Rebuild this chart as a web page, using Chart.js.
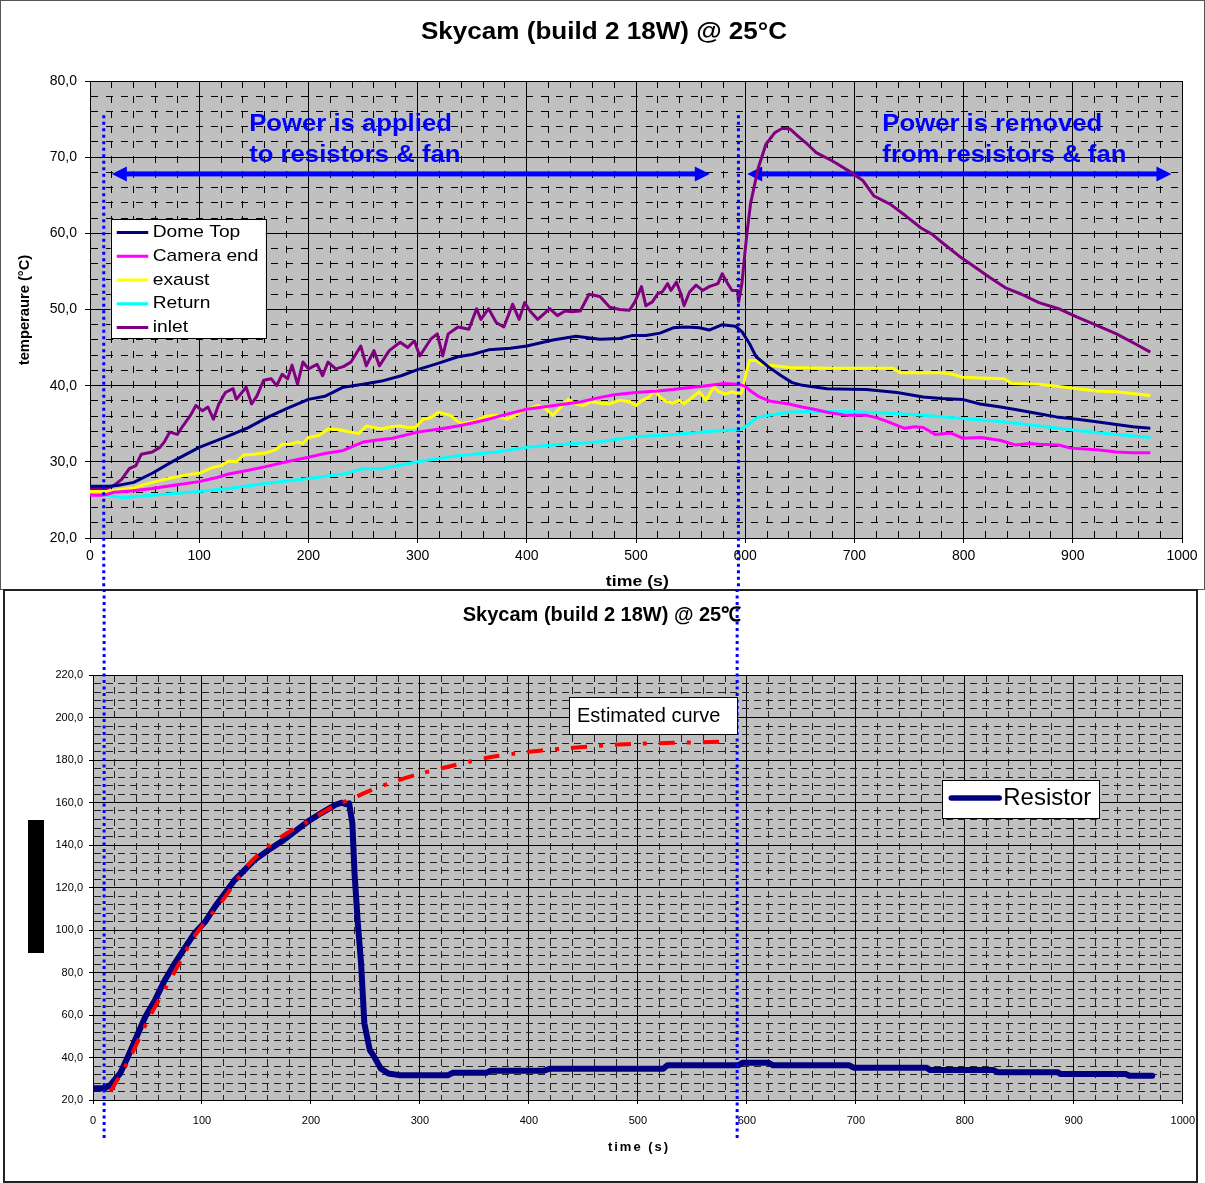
<!DOCTYPE html>
<html><head><meta charset="utf-8">
<script src="https://cdn.jsdelivr.net/npm/chart.js@4"></script>
<style>
html,body{margin:0;padding:0;background:#fff;width:1205px;height:1183px;overflow:hidden}
#boxTop{position:absolute;left:0;top:0;width:1205px;height:590px;box-sizing:border-box;border:1px solid #555;}
#boxBot{position:absolute;left:3px;top:589px;width:1195px;height:594px;box-sizing:border-box;border:2px solid #222;background:#fff}
#c1{position:absolute;left:0;top:0}
#c2{position:absolute;left:0;top:589px}
</style></head><body>
<div id="boxTop"></div><div id="boxBot"></div>
<canvas id="c1" width="1205" height="590"></canvas>
<canvas id="c2" width="1205" height="594"></canvas>
<script>
// ---------------- DATA (top chart) ----------------
const topTitle = 'Skycam (build 2 18W) @ 25°C';
const topYTitle = 'temperaure (°C)';
const topXTitle = 'time (s)';
const seriesLabels = ['Dome Top', 'Camera end', 'exaust', 'Return', 'inlet'];
const seriesColors = ['#000080', '#FF00FF', '#FFFF00', '#00FFFF', '#800080'];

const domeTopTime = [0,10,18,25,40,57,75,100,127,145,162,180,200,215,232,250,267,285,300,318,337,350,365,385,400,424,445,467,485,497,509,522,534,546,558,567,579,591,597,604,610,622,633,643,651,675,711,739,763,780,799,815,834,850,869,885,904,920,940,955,971];
const domeTopTemp = [26.8,26.8,26.8,26.9,27.3,28.5,30.0,31.9,33.4,34.5,35.8,37.0,38.2,38.6,39.8,40.2,40.6,41.3,42.1,42.9,43.8,44.1,44.7,44.9,45.2,46.0,46.5,46.1,46.2,46.6,46.6,46.9,47.6,47.7,47.6,47.3,48.0,47.8,47.1,45.5,43.8,42.4,41.3,40.4,40.1,39.6,39.5,39.1,38.5,38.3,38.2,37.6,37.2,36.8,36.3,35.9,35.6,35.3,34.9,34.6,34.4];

const cameraEndTime = [0,10,15,22,40,57,80,100,115,127,145,162,180,200,215,232,240,250,265,277,300,320,337,350,365,380,400,420,435,450,465,480,500,520,534,545,559,570,580,594,600,605,612,622,640,652,663,675,693,711,720,728,746,755,763,774,788,799,816,834,848,860,869,887,898,922,940,955,971];
const cameraEndTemp = [25.6,25.6,25.7,26.0,26.2,26.5,27.0,27.4,27.9,28.4,28.9,29.4,30.0,30.6,31.1,31.5,32.0,32.6,32.9,33.1,33.9,34.3,34.7,35.1,35.6,36.2,36.9,37.3,37.6,37.9,38.4,38.8,39.1,39.3,39.5,39.7,39.9,40.1,40.3,40.2,39.9,39.3,38.6,38.0,37.6,37.2,36.9,36.5,36.1,36.1,35.8,35.4,34.4,34.6,34.5,33.6,33.8,33.1,33.2,32.8,32.2,32.4,32.3,32.2,31.8,31.6,31.3,31.2,31.2];

const exaustTime = [0,15,25,40,57,75,90,100,113,120,127,134,141,150,162,170,176,183,190,195,200,210,218,228,239,246,253,260,267,276,284,291,298,305,312,319,325,330,335,340,347,354,362,372,377,382,388,396,403,410,417,424,431,438,445,452,459,467,476,485,494,500,506,512,517,522,528,534,540,544,550,558,564,571,576,582,588,594,597,600,604,610,615,640,675,711,735,742,781,790,799,816,837,844,869,887,922,940,971];
const exaustTemp = [26.1,26.1,26.3,26.6,27.3,27.9,28.3,28.5,29.3,29.5,30.1,30.0,30.9,31.0,31.2,31.6,32.3,32.3,32.6,32.4,33.2,33.5,34.3,34.2,33.9,33.7,34.7,34.5,34.3,34.6,34.7,34.5,34.5,35.6,35.8,36.5,36.3,36.1,35.5,35.0,35.2,35.4,36.0,36.1,35.8,35.6,36.0,36.7,37.0,37.4,37.0,36.1,37.2,38.2,37.6,37.4,37.9,37.7,37.6,38.1,37.9,37.4,38.1,38.5,39.4,38.5,37.9,37.7,38.1,37.6,38.3,39.2,38.1,39.8,39.2,38.9,39.2,38.9,39.1,41.2,43.3,43.3,42.8,42.4,42.3,42.3,42.3,41.7,41.7,41.5,41.1,41.0,40.9,40.3,40.2,39.9,39.3,39.2,38.7];

const returnTime = [0,10,15,29,57,100,127,162,200,232,250,267,300,337,372,400,424,465,500,534,569,594,600,612,640,658,693,728,763,799,834,869,904,940,971];
const returnTemp = [26.0,26.0,25.6,25.3,25.6,26.1,26.5,27.2,27.8,28.4,29.1,29.1,30.0,30.8,31.3,31.9,32.2,32.6,33.3,33.6,34.0,34.2,34.6,35.9,36.5,36.6,36.6,36.4,36.1,35.7,35.3,34.7,34.1,33.6,33.2];

const inletTime = [0,15,22,29,36,42,47,57,64,68,73,80,85,92,97,103,108,113,118,124,131,134,143,148,153,159,166,171,176,181,185,190,195,200,208,213,218,225,232,239,248,253,260,265,274,284,291,297,302,312,318,323,328,337,347,354,358,365,372,379,387,393,398,403,410,421,428,435,441,449,457,467,476,485,494,499,505,509,515,520,524,529,532,537,541,544,549,555,561,567,575,579,584,588,593,594,597,600,602,605,612,619,627,634,641,648,657,665,680,697,708,718,733,747,761,771,782,796,807,824,839,853,869,887,904,922,940,957,971];
const inletTemp = [26.5,26.5,26.9,27.7,29.1,29.5,31.0,31.3,31.9,32.6,33.9,33.6,34.7,36.1,37.4,36.7,37.2,35.6,37.6,39.1,39.6,38.2,39.8,37.6,38.7,40.7,40.9,40.0,41.5,40.9,42.7,40.2,43.1,42.2,42.8,41.3,43.1,42.2,42.5,43.1,45.2,42.6,44.6,42.6,44.6,45.7,45.0,45.9,43.9,46.1,46.8,43.9,46.8,47.7,47.4,50.1,48.7,50.1,48.3,47.7,50.7,48.7,50.9,49.8,48.7,50.1,49.2,49.8,49.7,49.8,52.0,51.7,50.3,50.0,49.9,51.0,53.0,50.5,51.0,52.1,52.3,53.4,52.5,53.6,52.1,50.5,52.3,53.2,52.5,53.0,53.4,54.7,53.4,52.5,52.5,51.0,53.4,57.8,60.5,64.0,68.6,71.7,73.2,73.8,73.7,72.8,71.7,70.6,69.5,68.0,66.9,64.9,63.8,62.3,60.7,59.9,58.6,57.0,55.9,54.2,52.8,52.0,50.9,50.1,49.0,47.9,46.8,45.5,44.4];

const topTimes = [domeTopTime, cameraEndTime, exaustTime, returnTime, inletTime];
const topTemps = [domeTopTemp, cameraEndTemp, exaustTemp, returnTemp, inletTemp];

// annotations (data units)
const appliedText = ['Power is applied', 'to resistors & fan'];
const removedText = ['Power is removed', 'from resistors & fan'];
const textRows = [74.27, 70.28];
const appliedTextT = 145.8, removedTextT = 725.6;
const arrowLevel = 67.8;
const appliedArrow = [20.0, 567.6];
const removedArrow = [601.8, 990.3];
const markerTimesTop = [12.6, 593.8];
const markerTopLevel = 75.5;
const legendAnchorTop = [19.0, 61.87];

// ---------------- DATA (bottom chart) ----------------
const botTitle = 'Skycam (build 2 18W) @ 25℃';
const botXTitle = 'time (s)';
const resistorLabel = 'Resistor';
const estimatedLabel = 'Estimated curve';
const resistorTime = [0,11,16,25,32,40,48,57,66,75,84,93,103,112,121,130,139,148,161,173,185,197,209,222,228,232,235,238,240,243,246,249,254,258,264,271,281,326,330,361,365,414,419,523,527,592,596,620,624,694,698,765,768,826,830,885,888,948,951,972];
const resistorTemp = [25.5,25.5,27.1,32.6,40.4,49.8,59.2,67.1,76.5,84.3,91.4,98.4,103.9,111,117.3,123.5,128.2,132.9,137.6,141.6,146.3,151,154.9,158.8,159.9,159.2,159.6,150.2,126.7,103.2,84.3,56.1,43.5,40.4,34.8,32.5,31.7,31.7,32.8,32.8,33.8,33.8,34.7,34.7,36.3,36.3,37.5,37.5,36.3,36.3,35.2,35.2,34.1,34.1,33.1,33.1,32.2,32.2,31.4,31.4];
const estimatedTime = [16,32,52,75,93,118,145,173,197,222,235,252,274,299,320,347,364,386,410,438,455,469,497,532,578];
const estimatedTemp = [24,38,59.2,80.4,97,113.3,132.1,143.9,151,158.6,161.2,165.1,169.4,173.4,176.1,179.4,181.3,182.9,184.4,185.6,186.3,186.9,187.6,188.1,188.6];
const markerTimesBot = [10.2, 591.1];
const markerBottomLevel = 0.9;
const estBoxAnchor = [436.8, 209.6];
const resLegendAnchor = [779.3, 170.6];

// ---------------- helpers ----------------
const FONT = "'Liberation Sans', Arial, Helvetica, sans-serif";
function pts(t, v) { return t.map((x, i) => ({x: x, y: v[i]})); }
function isMult(v, m) { return Math.abs(v / m - Math.round(v / m)) < 1e-6; }
function comma(v) { return v.toFixed(1).replace('.', ','); }

function txt(ctx, text, x, y, o) {
  ctx.save();
  ctx.font = o.font; ctx.fillStyle = o.color || '#000';
  ctx.textBaseline = 'middle'; ctx.textAlign = 'left';
  const sp = o.spacing || 0;
  if (sp) ctx.letterSpacing = sp + 'px';
  const sx = o.sx || 1;
  let w = ctx.measureText(text).width;
  if (sp) w -= sp;
  w *= sx;
  const x0 = o.align === 'center' ? x - w / 2 : (o.align === 'right' ? x - w : x);
  ctx.translate(x0, y); ctx.scale(sx, 1);
  ctx.fillText(text, 0, 0);
  ctx.restore();
}
function arrow(ctx, x1, x2, y, color) {
  const hl = 15, hw = 7.5, sw = 5;
  ctx.save();
  ctx.fillStyle = color;
  ctx.fillRect(x1 + hl - 1, y - sw / 2, x2 - x1 - 2 * hl + 2, sw);
  ctx.beginPath(); ctx.moveTo(x1, y); ctx.lineTo(x1 + hl, y - hw); ctx.lineTo(x1 + hl, y + hw); ctx.closePath(); ctx.fill();
  ctx.beginPath(); ctx.moveTo(x2, y); ctx.lineTo(x2 - hl, y - hw); ctx.lineTo(x2 - hl, y + hw); ctx.closePath(); ctx.fill();
  ctx.restore();
}
function dotted(ctx, x, y1, y2) {
  ctx.save(); ctx.strokeStyle = '#0000FF'; ctx.lineWidth = 3; ctx.setLineDash([3, 3.5]);
  ctx.beginPath(); ctx.moveTo(x, y1); ctx.lineTo(x, y2); ctx.stroke(); ctx.restore();
}
function gridOpts(major, dash, minorColor, majorColor, tl) {
  return {
    grid: {
      color: c => (c.tick && !isMult(c.tick.value, major)) ? minorColor : majorColor,
      lineWidth: 1, tickLength: tl, tickWidth: 1,
      tickColor: c => (c.tick && !isMult(c.tick.value, major)) ? 'rgba(0,0,0,0)' : '#000'
    },
    border: { display: true, color: '#000', width: 1,
      dash: c => (c.tick && !isMult(c.tick.value, major)) ? dash : [] }
  };
}

// ---------------- top chart ----------------
const topPlugin = {
  id: 'topDecor',
  beforeDraw(chart) {
    const {ctx, chartArea: a} = chart;
    ctx.save(); ctx.fillStyle = '#C0C0C0'; ctx.fillRect(a.left, a.top, a.right - a.left, a.bottom - a.top); ctx.restore();
  },
  beforeDatasetsDraw(chart) {
    const {ctx, scales: {x, y}} = chart;
    const ay = y.getPixelForValue(arrowLevel);
    arrow(ctx, x.getPixelForValue(appliedArrow[0]), x.getPixelForValue(appliedArrow[1]), ay, '#0000FF');
    arrow(ctx, x.getPixelForValue(removedArrow[0]), x.getPixelForValue(removedArrow[1]), ay, '#0000FF');
    const f = {font: 'bold 24px ' + FONT, color: '#0000FF', sx: 1.07};
    appliedText.forEach((s, i) => txt(ctx, s, x.getPixelForValue(appliedTextT), y.getPixelForValue(textRows[i]), f));
    removedText.forEach((s, i) => txt(ctx, s, x.getPixelForValue(removedTextT), y.getPixelForValue(textRows[i]), f));
  },
  afterDatasetsDraw(chart) {
    const {ctx, scales: {x, y}} = chart;
    markerTimesTop.forEach(t => dotted(ctx, x.getPixelForValue(t), y.getPixelForValue(markerTopLevel), chart.height));
    const lx = x.getPixelForValue(legendAnchorTop[0]), ly = y.getPixelForValue(legendAnchorTop[1]);
    ctx.save();
    ctx.fillStyle = '#fff'; ctx.fillRect(lx, ly, 155, 119);
    ctx.strokeStyle = '#000'; ctx.lineWidth = 1; ctx.strokeRect(Math.round(lx) + 0.5, Math.round(ly) + 0.5, 155, 119);
    chart.data.datasets.forEach((d, i) => {
      const ry = ly + 13.5 + i * 23.7;
      ctx.strokeStyle = d.borderColor; ctx.lineWidth = 3;
      ctx.beginPath(); ctx.moveTo(lx + 6, ry); ctx.lineTo(lx + 37.5, ry); ctx.stroke();
      txt(ctx, d.label, lx + 42, ry, {font: '17px ' + FONT, sx: 1.13});
    });
    ctx.restore();
  },
  afterDraw(chart) {
    const {ctx} = chart;
    txt(ctx, topTitle, 604, 32.5, {font: 'bold 24px ' + FONT, sx: 1.086, align: 'center'});
    txt(ctx, topXTitle, 637.3, 581.5, {font: 'bold 15px ' + FONT, sx: 1.18, align: 'center'});
    ctx.save(); ctx.translate(25, 310); ctx.rotate(-Math.PI / 2);
    txt(ctx, topYTitle, 0, 0, {font: 'bold 14px ' + FONT, sx: 1.05, align: 'center'});
    ctx.restore();
  }
};

const gxTop = gridOpts(100, [7, 8], '#000', '#000', 5);
const gyTop = gridOpts(10, [7, 8], '#000', '#000', 5);
new Chart(document.getElementById('c1'), {
  type: 'line',
  data: { datasets: seriesLabels.map((lab, i) => ({
    label: lab, data: pts(topTimes[i], topTemps[i]), borderColor: seriesColors[i], backgroundColor: seriesColors[i],
    borderWidth: 3, pointRadius: 0, tension: 0, fill: false, borderJoinStyle: 'round'
  })) },
  options: {
    responsive: false, animation: false, devicePixelRatio: 1, events: [],
    layout: { padding: { left: 0, right: 23, top: 81, bottom: 0 } },
    plugins: { legend: { display: false }, title: { display: false }, tooltip: { enabled: false } },
    scales: {
      x: { type: 'linear', min: 0, max: 1000, afterFit(s) { s.height = 52; },
        ticks: { stepSize: 20, autoSkip: false, maxRotation: 0, minRotation: 0, maxTicksLimit: 200, padding: 5, color: '#000',
          font: { family: FONT, size: 14 }, callback: v => isMult(v, 100) ? String(v) : '' },
        grid: gxTop.grid, border: gxTop.border },
      y: { type: 'linear', min: 20, max: 80, afterFit(s) { s.width = 90; },
        ticks: { stepSize: 2, autoSkip: false, maxTicksLimit: 200, padding: 8, color: '#000',
          font: { family: FONT, size: 14 }, callback: v => isMult(v, 10) ? comma(v) : '' },
        grid: gyTop.grid, border: gyTop.border }
    }
  },
  plugins: [topPlugin]
});

// ---------------- bottom chart ----------------
const botPlugin = {
  id: 'botDecor',
  beforeDraw(chart) {
    const {ctx, chartArea: a} = chart;
    ctx.save(); ctx.fillStyle = '#C0C0C0'; ctx.fillRect(a.left, a.top, a.right - a.left, a.bottom - a.top); ctx.restore();
  },
  afterDatasetsDraw(chart) {
    const {ctx, scales: {x, y}} = chart;
    markerTimesBot.forEach(t => dotted(ctx, x.getPixelForValue(t), 0, y.getPixelForValue(markerBottomLevel)));
    ctx.save();
    const ex = x.getPixelForValue(estBoxAnchor[0]), ey = y.getPixelForValue(estBoxAnchor[1]);
    ctx.fillStyle = '#fff'; ctx.fillRect(ex, ey, 168, 37);
    ctx.strokeStyle = '#000'; ctx.lineWidth = 1; ctx.strokeRect(Math.round(ex) + 0.5, Math.round(ey) + 0.5, 168, 37);
    txt(ctx, estimatedLabel, ex + 8, ey + 19.5, {font: '20px ' + FONT});
    const rx = x.getPixelForValue(resLegendAnchor[0]), ry = y.getPixelForValue(resLegendAnchor[1]);
    ctx.fillStyle = '#fff'; ctx.fillRect(rx, ry, 157, 38);
    ctx.strokeStyle = '#000'; ctx.lineWidth = 1; ctx.strokeRect(Math.round(rx) + 0.5, Math.round(ry) + 0.5, 157, 38);
    const d = chart.data.datasets[1];
    ctx.strokeStyle = d.borderColor; ctx.lineWidth = 5.5; ctx.lineCap = 'round';
    ctx.beginPath(); ctx.moveTo(rx + 9, ry + 18); ctx.lineTo(rx + 57, ry + 18); ctx.stroke();
    txt(ctx, d.label, rx + 61, ry + 18, {font: '24px ' + FONT});
    ctx.restore();
  },
  afterDraw(chart) {
    const {ctx} = chart;
    txt(ctx, botTitle, 602, 26.5, {font: 'bold 20px ' + FONT, align: 'center'});
    txt(ctx, botXTitle, 638, 558.5, {font: 'bold 13px ' + FONT, align: 'center', spacing: 2});
    ctx.save(); ctx.fillStyle = '#000'; ctx.fillRect(28, 231, 16, 133); ctx.restore();
  }
};

const gxBot = gridOpts(100, [7, 5], '#222', '#000', 4);
const gyBot = gridOpts(20, [7, 5], '#222', '#000', 4);
new Chart(document.getElementById('c2'), {
  type: 'line',
  data: { datasets: [
    { label: estimatedLabel, data: pts(estimatedTime, estimatedTemp), borderColor: '#FF0000', borderWidth: 4,
      borderDash: [16, 12, 4, 12], pointRadius: 0, tension: 0.3, fill: false, order: 0 },
    { label: resistorLabel, data: pts(resistorTime, resistorTemp), borderColor: '#000080', borderWidth: 6,
      pointRadius: 0, tension: 0, fill: false, borderJoinStyle: 'round', borderCapStyle: 'round', order: 1 }
  ] },
  options: {
    responsive: false, animation: false, devicePixelRatio: 1, events: [],
    layout: { padding: { left: 0, right: 20, top: 86, bottom: 0 } },
    plugins: { legend: { display: false }, title: { display: false }, tooltip: { enabled: false } },
    scales: {
      x: { type: 'linear', min: 0, max: 1000, afterFit(s) { s.height = 83; },
        ticks: { stepSize: 20, autoSkip: false, maxRotation: 0, minRotation: 0, maxTicksLimit: 200, padding: 10, color: '#000',
          font: { family: FONT, size: 11 }, callback: v => isMult(v, 100) ? String(v) : '' },
        grid: gxBot.grid, border: gxBot.border },
      y: { type: 'linear', min: 20, max: 220, afterFit(s) { s.width = 93; },
        ticks: { stepSize: 4, autoSkip: false, maxTicksLimit: 200, padding: 6, color: '#000',
          font: { family: FONT, size: 11 }, callback: v => isMult(v, 20) ? comma(v) : '' },
        grid: gyBot.grid, border: gyBot.border }
    }
  },
  plugins: [botPlugin]
});
</script>
</body></html>
